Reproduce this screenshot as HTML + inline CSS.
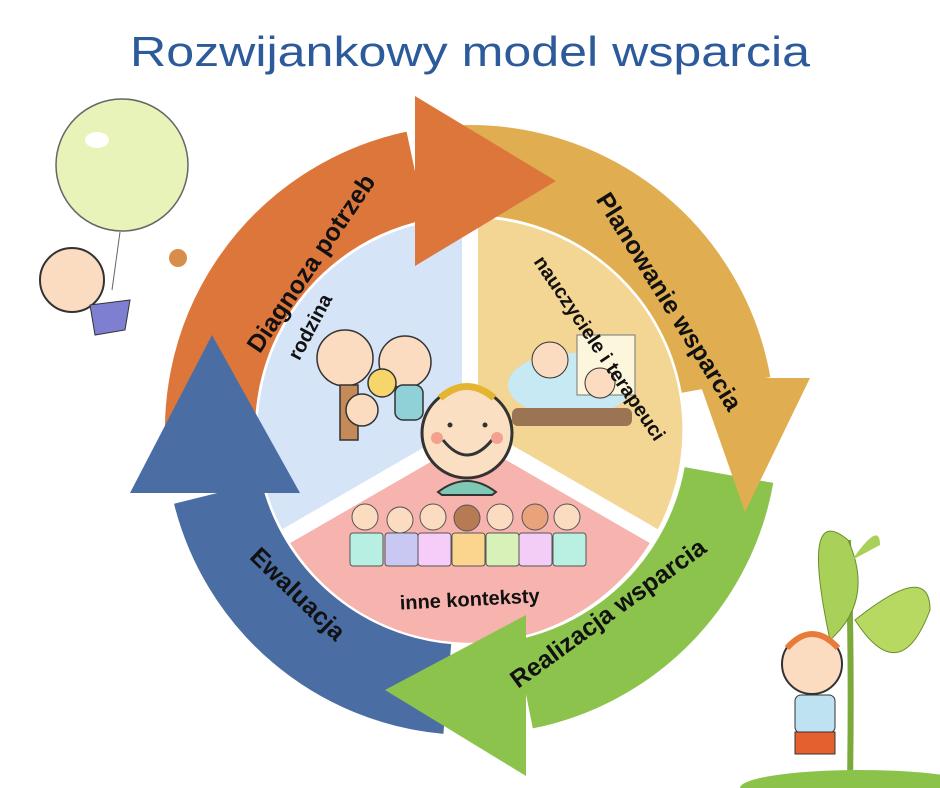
<!DOCTYPE html>
<html><head><meta charset="utf-8"><style>html,body{margin:0;padding:0;background:#fff}svg{display:block}</style></head>
<body>
<svg width="940" height="788" viewBox="0 0 940 788" xmlns="http://www.w3.org/2000/svg" font-family="Liberation Sans, sans-serif">
<rect width="940" height="788" fill="#fff"/>
<text x="470" y="66" text-anchor="middle" font-size="42" fill="#2d5a9a" textLength="680" lengthAdjust="spacingAndGlyphs">Rozwijankowy model wsparcia</text>

<path d="M470,430 L470,218 A212,212 0 0 0 286,536 Z" fill="#d6e4f8"/>
<path d="M470,430 L470,218 A212,212 0 0 1 654,536 Z" fill="#f3d594"/>
<path d="M470,430 L286,536 A212,212 0 0 0 654,536 Z" fill="#f7b3ae"/>
<g stroke="#fff" stroke-width="16">
<line x1="470" y1="430" x2="470" y2="215"/>
<line x1="470" y1="430" x2="283" y2="538"/>
<line x1="470" y1="430" x2="657" y2="538"/>
</g>

<g fill="none" stroke-width="90">
<path d="M213.9,475.1 A260,260 0 0 1 415.9,175.7" stroke="#dd763a"/>
<path d="M447.3,171 A260,260 0 0 1 726,384.9" stroke="#e0ae50"/>
<path d="M729,475 A260,260 0 0 1 524,684.3" stroke="#8cc34d"/>
<path d="M447.3,689 A260,260 0 0 1 217.7,492.9" stroke="#4a6ea3"/>
</g>
<polygon points="415,96 415,266 556,181" fill="#dd763a"/>
<polygon points="698,378 810,378 745,512" fill="#e0ae50"/>
<polygon points="526,615 526,776 385,690" fill="#8cc34d"/>
<polygon points="130,493 300,493 212,335" fill="#4a6ea3"/>

<g stroke="#333" stroke-width="1.5">
<circle cx="345" cy="358" r="28" fill="#fbdcc0"/>
<circle cx="405" cy="362" r="26" fill="#fbdcc0"/>
<rect x="395" y="385" width="28" height="35" rx="8" fill="#8fd1d6"/>
<rect x="340" y="385" width="18" height="55" fill="#c48a57"/>
<circle cx="362" cy="410" r="16" fill="#fbdcc0"/>
<circle cx="382" cy="383" r="14" fill="#f6d56b"/>
</g>
<ellipse cx="570" cy="385" rx="62" ry="32" fill="#c6e9f3"/>
<rect x="577" y="335" width="58" height="60" fill="#fbf6dc" stroke="#777"/>
<circle cx="550" cy="360" r="18" fill="#fbdcc0" stroke="#333"/>
<circle cx="600" cy="383" r="15" fill="#fbdcc0" stroke="#333"/>
<rect x="512" y="408" width="120" height="18" rx="6" fill="#9b7553"/>
<g stroke="#555" stroke-width="1">
<circle cx="365" cy="517" r="13" fill="#fbdcc0"/><circle cx="400" cy="520" r="13" fill="#fbdcc0"/>
<circle cx="433" cy="517" r="13" fill="#fbdcc0"/><circle cx="467" cy="518" r="13" fill="#b67b55"/>
<circle cx="500" cy="517" r="13" fill="#fbdcc0"/><circle cx="535" cy="517" r="13" fill="#e9a27a"/>
<circle cx="567" cy="517" r="13" fill="#fbdcc0"/>
<rect x="350" y="533" width="33" height="33" rx="3" fill="#b8efe3"/>
<rect x="385" y="533" width="33" height="33" rx="3" fill="#c9c8f3"/>
<rect x="418" y="533" width="33" height="33" rx="3" fill="#f6cdf8"/>
<rect x="452" y="533" width="33" height="33" rx="3" fill="#fbd58d"/>
<rect x="486" y="533" width="33" height="33" rx="3" fill="#d7f1b9"/>
<rect x="519" y="533" width="33" height="33" rx="3" fill="#f4cdf6"/>
<rect x="553" y="533" width="33" height="33" rx="3" fill="#baf0e2"/>
</g>
<path d="M438,492 Q467,470 496,492 L492,495 L442,495 Z" fill="#7ec8b4" stroke="#333" stroke-width="2"/>
<circle cx="467" cy="433" r="45" fill="#fbdfc2" stroke="#333" stroke-width="3"/>
<path d="M440,398 Q467,375 494,398" stroke="#e3b531" stroke-width="7" fill="none"/>
<circle cx="450" cy="425" r="2.5" fill="#333"/><circle cx="485" cy="425" r="2.5" fill="#333"/>
<path d="M443,440 Q467,470 492,440" stroke="#333" stroke-width="3" fill="none"/>
<circle cx="437" cy="438" r="6" fill="#f3a290"/><circle cx="497" cy="438" r="6" fill="#f3a290"/>

<g font-weight="bold" fill="#111" font-size="25" text-anchor="middle">
<text transform="translate(318,268) rotate(-56)">Diagnoza potrzeb</text>
<text transform="translate(662,306) rotate(58)">Planowanie wsparcia</text>
<text transform="translate(613,620) rotate(-36)">Realizacja wsparcia</text>
<text transform="translate(292,600) rotate(44)">Ewaluacja</text>
<g font-size="20">
<text transform="translate(316,330) rotate(-62)">rodzina</text>
<text transform="translate(594,352) rotate(56)">nauczyciele i terapeuci</text>
<text transform="translate(470,606) rotate(-3)">inne konteksty</text>
</g>
</g>

<circle cx="122" cy="165" r="66" fill="#e7f3b8" stroke="#666" stroke-width="1.5"/>
<ellipse cx="97" cy="140" rx="12" ry="8" fill="#fff"/>
<line x1="120" y1="232" x2="112" y2="290" stroke="#666"/>
<circle cx="72" cy="280" r="32" fill="#fbdcc0" stroke="#333" stroke-width="2"/>
<path d="M90,305 L130,300 L125,330 L95,335 Z" fill="#7e7fd1" stroke="#333"/>
<circle cx="178" cy="258" r="9" fill="#d98d4b"/>

<path d="M850,785 Q852,650 848,540" stroke="#7ba93a" stroke-width="6" fill="none"/>
<path d="M848,540 Q800,500 830,640 Q875,600 848,540 Z" fill="#a9d15a" stroke="#6a8f2a"/>
<path d="M855,620 Q930,560 930,610 Q900,690 855,620 Z" fill="#b8d961" stroke="#6a8f2a"/>
<path d="M852,560 Q880,520 880,545 Z" fill="#a9d15a"/>
<ellipse cx="860" cy="788" rx="120" ry="18" fill="#8bc34a"/>
<circle cx="812" cy="664" r="30" fill="#fbdcc0" stroke="#333" stroke-width="2"/>
<path d="M787,648 Q812,620 838,648" stroke="#e87b3a" stroke-width="6" fill="none"/>
<rect x="795" y="695" width="40" height="38" rx="6" fill="#bfe2f3" stroke="#333"/>
<rect x="795" y="732" width="40" height="22" fill="#e4612f" stroke="#333"/>
</svg>
</body></html>
